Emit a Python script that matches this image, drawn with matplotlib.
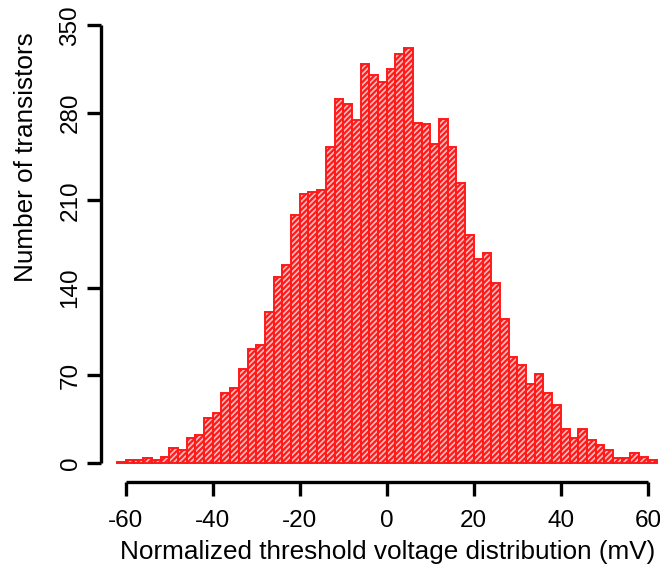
import numpy as np
import matplotlib
matplotlib.use("Agg")
import matplotlib.pyplot as plt

# Histogram of normalized threshold voltage (2 mV bins from -62 to 62 mV)
bin_edges = list(range(-62, 63, 2))
counts = [
    1, 2, 2, 4, 2, 5, 12, 10, 20, 22,
    36, 40, 56, 60, 75, 91, 94, 121, 149, 158,
    198, 215, 217, 218, 253, 291, 287, 274, 319, 310,
    305, 315, 327, 332, 272, 271, 255, 275, 253, 224,
    182, 163, 168, 144, 115, 85, 78, 63, 71, 56,
    46, 27, 20, 27, 18, 14, 10, 4, 4, 8,
    5, 2,
]
x_ticks = [-60, -40, -20, 0, 20, 40, 60]
y_ticks = [0, 70, 140, 210, 280, 350]

plt.rcParams["font.family"] = ["Liberation Sans", "DejaVu Sans"]
plt.rcParams["hatch.color"] = "#ff1c1c"
plt.rcParams["hatch.linewidth"] = 1.6

fig = plt.figure(figsize=(6.6, 5.69), dpi=100)
ax = fig.add_axes([0.153, 0.1529, 0.847, 0.8023])

edges = np.array(bin_edges, dtype=float)
ax.bar(edges[:-1], counts, width=np.diff(edges), align="edge",
       facecolor="#ffbcbc", edgecolor="#ff1a1a", linewidth=1.4,
       hatch="//////")

ax.set_xlim(-65.7, 62.8)
ax.set_ylim(-15.2, 350)

for side in ("top", "right"):
    ax.spines[side].set_visible(False)
ax.spines["left"].set_bounds(0, 350)
ax.spines["bottom"].set_bounds(-60, 60)
for side in ("left", "bottom"):
    ax.spines[side].set_linewidth(2.4)
    ax.spines[side].set_capstyle("butt")

ax.set_xticks(x_ticks)
ax.set_xticklabels([str(v) for v in x_ticks])
ax.set_yticks(y_ticks)
ax.set_yticklabels([str(v) for v in y_ticks], rotation=90, va="center")
ax.tick_params(axis="both", direction="out", length=10, width=2.4,
               labelsize=17.5, colors="black")
ax.tick_params(axis="x", pad=10)
ax.tick_params(axis="y", pad=4)

ax.set_xlabel("Normalized threshold voltage distribution (mV)",
              fontsize=18.8)
ax.xaxis.set_label_coords(0.5125, -0.128)
ax.set_ylabel("Number of transistors", fontsize=18.8)
ax.yaxis.set_label_coords(-0.113, 0.712)

fig.savefig("out.png", dpi=100)
